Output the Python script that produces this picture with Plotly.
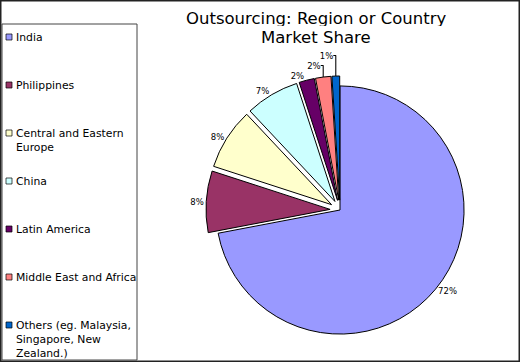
import plotly.graph_objects as go

categories = ["India", "Philippines", "Central and Eastern Europe", "China",
              "Latin America", "Middle East and Africa",
              "Others (eg. Malaysia, Singapore, New Zealand.)"]
legend_labels = ["India", "Philippines", "Central and Eastern<br>Europe", "China",
                 "Latin America", "Middle East and Africa",
                 "Others (eg. Malaysia,<br>Singapore, New<br>Zealand.)"]
title_lines = ["Outsourcing: Region or Country", "Market Share"]
shares = [72, 8, 8, 7, 2, 2, 1]
colors = ["#9999FF", "#993366", "#FFFFCC", "#CCFFFF", "#660066", "#FF8080", "#0066CC"]
pulls = [0, 0.08, 0.08, 0.08, 0.08, 0.08, 0.08]

W, H = 520, 362
FONT = "DejaVu Sans, Verdana, sans-serif"


def px(x):
    return x / W


def py(y):
    return 1 - y / H


fig = go.Figure()
fig.add_trace(go.Pie(
    labels=categories, values=shares, sort=False, direction="clockwise", rotation=0,
    pull=pulls, marker=dict(colors=colors, line=dict(color="#000000", width=1)),
    textinfo="percent", textposition="outside",
    textfont=dict(family=FONT, size=8.5, color="#000000"),
    showlegend=False,
    domain=dict(x=[px(206), px(474)], y=[py(344), py(76)]),
))

shapes = [
    dict(type="rect", xref="paper", yref="paper", x0=0, x1=1, y0=0, y1=1,
         line=dict(color="#222222", width=3), fillcolor="rgba(0,0,0,0)"),
    dict(type="rect", xref="paper", yref="paper", x0=px(2), x1=px(137), y0=py(360), y1=py(24),
         line=dict(color="#444444", width=1), fillcolor="rgba(0,0,0,0)"),
]
annotations = []
item_y = [37, 85, 133, 181, 229, 277, 325]
for lab, col, y in zip(legend_labels, colors, item_y):
    shapes.append(dict(type="rect", xref="paper", yref="paper",
                       x0=px(6), x1=px(12), y0=py(y + 3), y1=py(y - 3),
                       fillcolor=col, line=dict(color="#000000", width=0.7)))
    annotations.append(dict(text=lab, xref="paper", yref="paper", x=px(14), y=py(y - 8),
                            xanchor="left", yanchor="top", showarrow=False, align="left",
                            font=dict(family=FONT, size=10.8, color="#000000")))

for line, y in zip(title_lines, [18, 37.5]):
    annotations.append(dict(text=line, xref="paper", yref="paper", x=px(316), y=py(y),
                            xanchor="center", yanchor="middle", showarrow=False, height=16,
                            font=dict(family=FONT, size=16.5, color="#000000")))

fig.update_layout(
    width=W, height=H, margin=dict(l=0, r=0, t=0, b=0),
    paper_bgcolor="#FFFFFF", plot_bgcolor="#FFFFFF",
    shapes=shapes, annotations=annotations,
)

fig.write_html("out.html", post_script="document.body.style.margin='0px';",
               config={"displayModeBar": False})
